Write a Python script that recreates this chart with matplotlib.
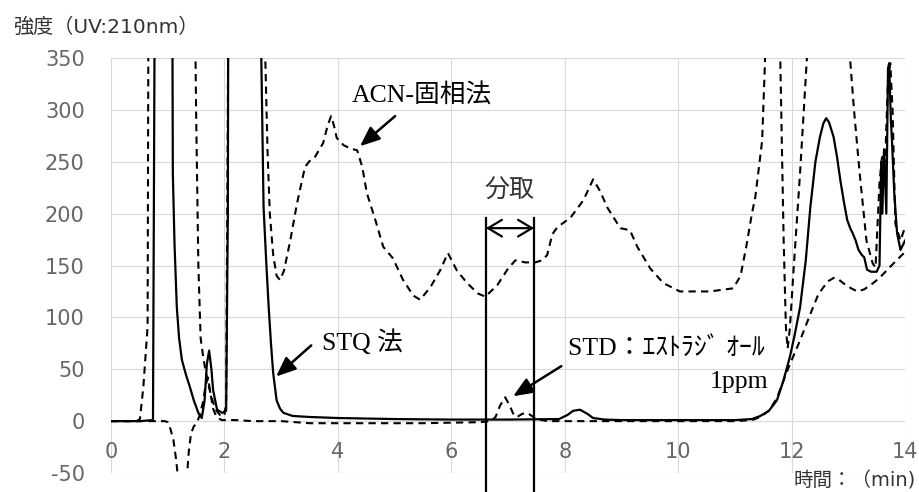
import matplotlib
matplotlib.use("Agg")
import matplotlib.pyplot as plt

# ---- data ----
# STQ method (solid line)
stq_x = [0, 0.5, 0.74, 0.77, 0.8, 1.0, 1.06, 1.09, 1.12, 1.16, 1.2, 1.25, 1.32, 1.39, 1.46, 1.54,
         1.6, 1.65, 1.69, 1.73, 1.77, 1.8, 1.87, 1.96, 2.03, 2.06, 2.09, 2.5, 2.6, 2.65, 2.69, 2.74,
         2.78, 2.82, 2.86, 2.92, 2.98, 3.04, 3.2, 3.5, 4, 5, 6, 7, 7.9, 8.05, 8.15, 8.27, 8.4, 8.5,
         8.7, 9, 10, 11, 11.3, 11.45, 11.6, 11.74, 11.85, 11.97, 12.05, 12.15, 12.25, 12.33, 12.42,
         12.5, 12.56, 12.61, 12.66, 12.74, 12.8, 12.86, 12.92, 12.98, 13.04, 13.07, 13.1, 13.13,
         13.18, 13.24, 13.28, 13.33, 13.4, 13.5, 13.55, 13.58, 13.6, 13.63, 13.67, 13.7, 13.72,
         13.75, 13.77, 13.81, 13.86, 13.92, 14]
stq_y = [0, 0, 1, 400, 1000, 1000, 800, 239, 170, 110, 80, 59, 45, 33, 20, 8,
         3, 20, 55, 68, 50, 30, 11, 8, 10, 200, 1000, 1000, 800, 350, 206, 150,
         110, 75, 46, 20, 12, 8, 5, 4, 3, 2, 1.5, 1.5, 2, 6, 10, 11, 7, 3,
         1.5, 1, 1, 1, 2, 5, 10, 20, 38, 62, 82, 110, 155, 206, 250,
         274, 287, 292, 288, 274, 255, 232, 212, 194, 185, 182, 178, 174,
         165, 160, 158, 146, 144, 144, 150, 250, 200, 262, 200, 340, 345,
         290, 270, 220, 181, 165, 174]

# ACN-solid phase method (dashed line)
acn_x = [0, 0.45, 0.51, 0.57, 0.645, 0.66, 0.7, 1.4, 1.46, 1.5, 1.54, 1.58, 1.63, 1.68, 1.74, 1.8,
         1.86, 1.92, 2.0, 2.03, 2.06, 2.1, 2.6, 2.68, 2.72, 2.76, 2.8, 2.86, 2.92, 2.98, 3.05, 3.16,
         3.28, 3.42, 3.52, 3.6, 3.74, 3.82, 3.88, 3.93, 3.98, 4.1, 4.21, 4.34, 4.43, 4.51, 4.66,
         4.8, 4.97, 5.15, 5.33, 5.45, 5.63, 5.8, 5.94, 6.1, 6.28, 6.47, 6.6, 6.81, 7.0, 7.13, 7.3,
         7.48, 7.6, 7.69, 7.78, 7.87, 8.1, 8.33, 8.5, 8.62, 8.75, 8.98, 9.15, 9.28, 9.51, 9.74,
         10.03, 10.56, 10.97, 11.1, 11.2, 11.3, 11.36, 11.48, 11.53, 11.56, 11.6, 11.75, 11.8,
         11.86, 11.9, 11.93, 11.97, 12.03, 12.15, 12.27, 12.35, 12.9, 13.0, 13.03, 13.1, 13.2,
         13.32, 13.43, 13.48, 13.55, 13.6, 13.65, 13.7, 13.74, 13.78, 13.83, 13.92, 14]
acn_y = [0, 0, 2, 33, 91, 400, 1000, 1000, 500, 300, 150, 80, 60, 45, 30, 18,
         10, 6, 5, 20, 300, 1000, 1000, 600, 350, 260, 200, 160, 140, 136, 145, 174,
         210, 245, 252, 255, 268, 285, 294, 285, 273, 266, 263, 261, 245, 220, 194,
         168, 157, 136, 121, 117, 129, 145, 162, 145, 133, 123, 120, 131, 147, 155, 153,
         153, 155, 160, 180, 187, 196, 213, 233, 222, 206, 186, 184, 168, 147, 133,
         125, 125, 128, 140, 168, 200, 216, 270, 345, 500, 1000, 1000, 350,
         174, 90, 70, 90, 142, 240, 350, 800, 800, 400, 350, 300, 239,
         174, 152, 148, 230, 258, 250, 330, 345, 300, 190, 174, 187]

# STD estradiol 1ppm (dashed line)
std_x = [0, 0.95, 1.0, 1.05, 1.1, 1.15, 1.2, 1.27, 1.33, 1.37, 1.41, 1.46, 1.51, 1.56, 1.62, 1.67,
         1.71, 1.75, 1.8, 1.86, 1.95, 2.2, 2.5, 3.0, 3.5, 4.5, 5.5, 6.5, 6.7, 6.78, 6.86, 6.95,
         7.03, 7.1, 7.16, 7.25, 7.34, 7.42, 7.5, 7.7, 8.5, 10, 11, 11.3, 11.45, 11.6, 11.74,
         11.85, 11.97, 12.05, 12.15, 12.25, 12.38, 12.47, 12.56, 12.65, 12.74, 12.82, 12.91,
         13.05, 13.16, 13.28, 13.39, 13.55, 13.69, 13.85, 14]
std_y = [0, 0, -1, -8, -18, -38, -65, -75, -60, -30, -12, -5, -2, 5, 18, 35,
         42, 28, 12, 4, 1, 1, 0, 0, -2, -2, -2, -1, 0, 4, 15, 23,
         15, 6, 4, 7, 8, 5, 2, 0, 0, 0, 0, 1, 4, 10, 22,
         38, 55, 65, 78, 92, 110, 122, 129, 135, 138, 137, 133,
         128, 125, 127, 131, 138, 146, 155, 163]

x_ticks = [0, 2, 4, 6, 8, 10, 12, 14]
y_ticks = [-50, 0, 50, 100, 150, 200, 250, 300, 350]

bunshu_x = [6.61, 7.46]   # fraction collection window

serif_jp = ['Liberation Serif', 'Noto Sans CJK JP']
sans_jp = ['DejaVu Sans', 'Noto Sans CJK JP']

plt.rcParams['axes.unicode_minus'] = False

fig = plt.figure(figsize=(9.19, 4.92), dpi=100)
ax = fig.add_axes([0.1208, 0.0386, 0.864, 0.8435])

ax.plot(stq_x, stq_y, color='black', lw=1.6, zorder=3)
ax.plot(acn_x, acn_y, color='black', lw=1.5, linestyle=(0, (3.5, 2.5)), zorder=3)
ax.plot(std_x, std_y, color='black', lw=1.5, linestyle=(0, (3.5, 2.5)), zorder=3)

ax.set_xlim(0, 14)
ax.set_ylim(-50, 350)
ax.set_xticks(x_ticks)
ax.set_yticks(y_ticks)
ax.grid(True, color='#d9d9d9', lw=0.8, zorder=0)
for s in ax.spines.values():
    s.set_visible(False)
ax.spines['bottom'].set_position(('data', 0))
ax.tick_params(axis='both', length=0, labelsize=15, labelcolor='#666666')
ax.tick_params(axis='x', pad=15)
ax.tick_params(axis='y', pad=19)
for lab in ax.get_xticklabels() + ax.get_yticklabels():
    lab.set_family('DejaVu Sans')

# collection window lines and arrow
for bx in bunshu_x:
    ax.plot([bx, bx], [196, -70], color='black', lw=1.6, clip_on=False, zorder=4)
ax.annotate('', xy=(bunshu_x[0], 186), xytext=(bunshu_x[1], 186),
            arrowprops=dict(arrowstyle='<->,head_length=0.5,head_width=0.3',
                            lw=1.6, color='black', mutation_scale=20, shrinkA=0, shrinkB=0))
ax.text(7.02, 222, '分取', family=serif_jp, fontsize=18, ha='center', va='center', color='#333333')

# labels with arrows
arr = dict(arrowstyle='-|>,head_length=0.6,head_width=0.25', lw=1.8, color='black',
           mutation_scale=20, shrinkA=0, shrinkB=0)
ax.annotate('', xy=(4.39, 265), xytext=(5.01, 294), arrowprops=arr)
ax.annotate('', xy=(2.91, 43), xytext=(3.53, 73), arrowprops=arr)
ax.annotate('', xy=(7.09, 24), xytext=(7.94, 53), arrowprops=arr)

ax.text(4.25, 314, 'ACN-固相法', family=serif_jp, fontsize=18.5, ha='left', va='center')
ax.text(3.72, 76, 'STQ 法', family=serif_jp, fontsize=18.5, ha='left', va='center')
ax.text(8.06, 70, 'STD：ｴｽﾄﾗｼﾞ ｵｰﾙ', family=serif_jp, fontsize=18.5, ha='left', va='center')
ax.text(11.59, 38, '1ppm', family=serif_jp, fontsize=18.5, ha='right', va='center')

fig.text(0.014, 0.945, '強度（UV:210nm）', family=sans_jp, fontsize=14.5, ha='left', va='center',
         color='#333333')
fig.text(0.996, 0.004, '時間：（min)', family=sans_jp, fontsize=14, ha='right', va='bottom',
         color='#333333')

fig.savefig('out.png', dpi=100)
